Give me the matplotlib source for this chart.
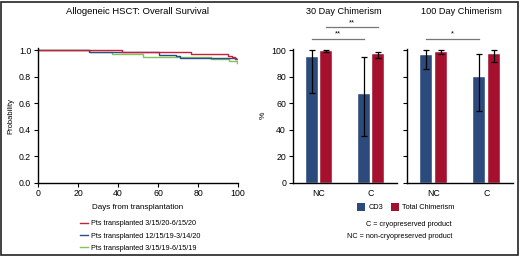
import matplotlib
matplotlib.use('Agg')
import matplotlib.pyplot as plt
from matplotlib.lines import Line2D
from matplotlib.patches import Patch, Rectangle
import numpy as np

plt.rcParams['font.family'] = ['Liberation Sans', 'DejaVu Sans']
plt.rcParams['font.size'] = 6.5

# Kaplan-Meier step data (days, survival)
red_days = [0, 41.8, 76.5, 95, 97, 98.5, 99.5]
red_surv = [1.0, 0.99, 0.97, 0.957, 0.945, 0.932, 0.932]
blue_days = [0, 25.7, 60.5, 69, 71, 99]
blue_surv = [1.0, 0.983, 0.965, 0.955, 0.938, 0.938]
green_days = [0, 26, 37, 52.7, 86.5, 95.5, 99.5]
green_surv = [1.0, 0.985, 0.968, 0.95, 0.932, 0.917, 0.905]
km_labels = ['Pts transplanted 3/15/20-6/15/20',
             'Pts transplanted 12/15/19-3/14/20',
             'Pts transplanted 3/15/19-6/15/19']
km_colors = ['#c8203c', '#2b4d8c', '#82c455']

# chimerism data
groups = ['NC', 'C']
cd3_30 = [95, 67]
cd3_30_lo = [68, 35]
cd3_30_hi = [100, 95]
tot_30 = [99.5, 97]
tot_30_lo = [99, 94]
tot_30_hi = [100, 99]
cd3_100 = [96.5, 80]
cd3_100_lo = [86, 54]
cd3_100_hi = [100, 97]
tot_100 = [98.5, 97]
tot_100_lo = [97, 91]
tot_100_hi = [100, 100]

c_cd3 = '#2c4a7c'
c_tot = '#a6102f'

W, H = 520, 256
fig = plt.figure(figsize=(W / 100, H / 100), dpi=100)


def px_axes(x0, y0, x1, y1):
    return fig.add_axes([x0 / W, 1 - y1 / H, (x1 - x0) / W, (y1 - y0) / H])


def style(ax):
    for s in ['top', 'right']:
        ax.spines[s].set_visible(False)
    ax.spines['left'].set_linewidth(1.0)
    ax.spines['bottom'].set_linewidth(1.0)
    ax.tick_params(length=3, width=0.8, labelsize=6.3, pad=2)


######## Kaplan-Meier
ax = px_axes(38, 48.5, 238, 182.5)
for d, s, c in [(red_days, red_surv, km_colors[0]),
                (blue_days, blue_surv, km_colors[1]),
                (green_days, green_surv, km_colors[2])][::-1]:
    ax.step(d, s, where='post', color=c, lw=1.0)
ax.set_xlim(0, 100)
ax.set_ylim(0, 1.013)
ax.set_xticks([0, 20, 40, 60, 80, 100])
ax.set_yticks([0, 0.2, 0.4, 0.6, 0.8, 1.0])
ax.set_yticklabels(['0.0', '0.2', '0.4', '0.6', '0.8', '1.0'])
style(ax)
ax.set_xlabel('Days from transplantation', fontsize=5.8, labelpad=4)
ax.set_ylabel('Probability', fontsize=5.5, labelpad=3)
fig.text(138 / W, 1 - 12 / H, 'Allogeneic HSCT: Overall Survival', ha='center', va='center', fontsize=6.8)

handles = [Line2D([], [], color=c, lw=1.0) for c in km_colors]
fig.legend(handles, km_labels, loc='center left', bbox_to_anchor=(76 / W, 1 - 236 / H),
           frameon=False, fontsize=5.2, handlelength=1.1, handletextpad=0.5,
           labelspacing=0.75, borderpad=0)

######## Chimerism bars
x = np.arange(len(groups))
off = 0.137
bw = 0.235


def bars(ax, cd3, cd3_lo, cd3_hi, tot, tot_lo, tot_hi):
    for vals, lo, hi, sgn, col in [(cd3, cd3_lo, cd3_hi, -1, c_cd3), (tot, tot_lo, tot_hi, 1, c_tot)]:
        vals = np.array(vals)
        err = [vals - np.array(lo), np.array(hi) - vals]
        ax.bar(x + sgn * off, vals, bw, color=col, edgecolor='white', linewidth=0.3)
        ax.errorbar(x + sgn * off, vals, yerr=err, fmt='none', ecolor='black',
                    elinewidth=0.9, capsize=2.5, capthick=0.9)
    ax.set_xlim(-0.5, 1.5)
    ax.set_ylim(0, 101.5)
    ax.set_xticks(x)
    ax.set_xticklabels(groups)
    style(ax)
    ax.tick_params(axis='x', length=0, pad=5)


def bracket(ax, x0, x1, y, text):
    ax.plot([x0, x1], [y, y], color='#777777', lw=0.9, clip_on=False)
    ax.text((x0 + x1) / 2, y + 0.8, text, ha='center', va='bottom', fontsize=5.5)


ax1 = px_axes(293, 48.5, 397, 182.5)
bars(ax1, cd3_30, cd3_30_lo, cd3_30_hi, tot_30, tot_30_lo, tot_30_hi)
ax1.set_yticks([0, 20, 40, 60, 80, 100])
ax1.set_ylabel('%', fontsize=6, labelpad=3)
bracket(ax1, x[0] - off, x[1] - off, 109, '**')
bracket(ax1, x[0] + off, x[1] + off, 117.5, '**')
fig.text(344 / W, 1 - 12 / H, '30 Day Chimerism', ha='center', va='center', fontsize=6.6)

ax2 = px_axes(407, 48.5, 513, 182.5)
bars(ax2, cd3_100, cd3_100_lo, cd3_100_hi, tot_100, tot_100_lo, tot_100_hi)
ax2.set_yticks([0, 20, 40, 60, 80, 100])
ax2.set_yticklabels([])
bracket(ax2, x[0] - off, x[1] - off, 109, '*')
fig.text(461 / W, 1 - 12 / H, '100 Day Chimerism', ha='center', va='center', fontsize=6.6)

bar_handles = [Patch(facecolor=c_cd3), Patch(facecolor=c_tot)]
fig.legend(bar_handles, ['CD3', 'Total Chimerism'], loc='center left',
           bbox_to_anchor=(353 / W, 1 - 207 / H), ncol=2, frameon=False, fontsize=5.3,
           handlelength=1.1, handleheight=1.5, handletextpad=0.5, columnspacing=1.0, borderpad=0)

fig.text(452 / W, 1 - 224 / H, 'C = cryopreserved product', ha='right', va='center', fontsize=5.2)
fig.text(452 / W, 1 - 236 / H, 'NC = non-cryopreserved product', ha='right', va='center', fontsize=5.2)

# frame around the figure
fig.patches.append(Rectangle((0.5 / W, 1.5 / H), (W - 3) / W, (H - 3) / H, transform=fig.transFigure,
                             fill=False, edgecolor='#222222', linewidth=1.2))

plt.savefig('out.png', dpi=100)
